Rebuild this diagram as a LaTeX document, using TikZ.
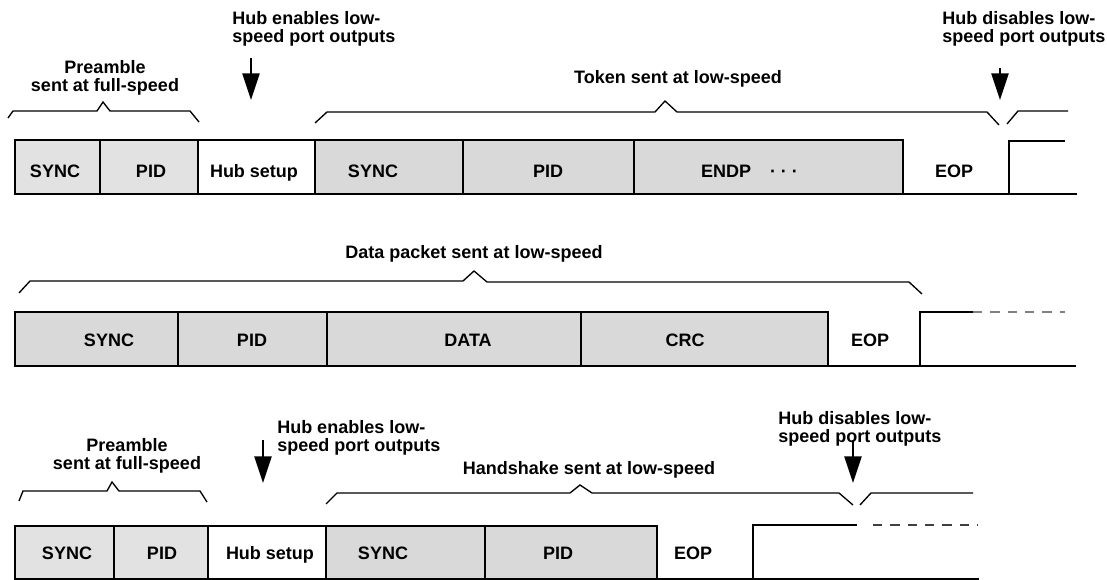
\documentclass[tikz,border=0pt]{standalone}
\usepackage{amsmath,xcolor,tikz}
\usepackage{fontspec}
\setmainfont{Liberation Sans}
\usetikzlibrary{arrows.meta}

\begin{document}
\begin{tikzpicture}[x=0.75pt,y=0.75pt,yscale=-1,xscale=1,
  lbl/.style={inner sep=0.75pt,font=\fontsize{13.5}{13.5}\selectfont\bfseries},
  fsbox/.style={draw,line width=1.3,fill={rgb, 255:red, 226; green, 226; blue, 226 }},
  lsbox/.style={draw,line width=1.3,fill={rgb, 255:red, 217; green, 217; blue, 217 }},
  hubbox/.style={draw,line width=1.3,fill=white},
  wire/.style={line width=1.3},
  idle/.style={line width=1.1,dash pattern=on 7pt off 6pt},
  brace/.style={line width=1},
  hubarrow/.style={line width=1.1,-{Triangle[width=13pt,length=20pt]}}]

\useasboundingbox (0,0) rectangle (1107,580);

\draw [fsbox] (15,140) rectangle (100,194) ;

\draw [fsbox] (100,140) rectangle (198,194) ;

\draw [hubbox] (198,140) rectangle (315,194) ;

\draw [lsbox] (315,140) rectangle (463,194) ;

\draw [lsbox] (463,140) rectangle (634,194) ;

\draw [lsbox] (634,140) rectangle (903,194) ;

\draw [wire] (903,194) -- (1077,194) ;

\draw [wire] (1009,194) -- (1009,141) -- (1065,141) ;

\draw [brace] (8,118) -- (13,111) -- (97,111) -- (103,102) -- (110,111) -- (190,111) -- (199,122) ;

\draw [brace] (315,123) -- (327,112) -- (655,112) -- (665,101) -- (677,112) -- (987,112) -- (999,125) ;

\draw [brace] (1007,124) -- (1018,111) -- (1068,111) ;

\coordinate (en1a) at (251,58) ;
\coordinate (en1b) at (251,100) ;
\draw [hubarrow] (en1a) -- (en1b) ;

\coordinate (dis1a) at (1000,68) ;
\draw [hubarrow] (dis1a) -- (dis1a |- en1b) ;

\draw (55,178) node (sync1) [lbl,anchor=base] {SYNC};

\draw (151,178) node (pid1) [lbl,anchor=base] {PID};

\draw (254,178) node (hub1) [lbl,anchor=base] {Hub setup};

\draw (373,178) node (lsync1) [lbl,anchor=base] {SYNC};

\draw (548,178) node (lpid1) [lbl,anchor=base] {PID};

\draw (726,178) node (endp1) [lbl,anchor=base] {ENDP};

\draw (784,178) node (more1) [lbl,anchor=base] {· · ·};

\draw (954,178) node (eop1) [lbl,anchor=base] {EOP};

\draw (105,59.5) node (pre1) [lbl,anchor=north] [align=center] {Preamble\\sent at full-speed};

\draw (231,10.5) node (en1) [lbl,anchor=north west] [align=left] {Hub enables low-\\speed port outputs};

\draw (678,83.5) node (tok1) [lbl,anchor=base] {Token sent at low-speed};

\draw (941,10.5) node (dis1) [lbl,anchor=north west] [align=left] {Hub disables low-\\speed port outputs};

\draw [lsbox] (15,312) rectangle (178,366) ;

\draw [lsbox] (178,312) rectangle (327,366) ;

\draw [lsbox] (327,312) rectangle (581,366) ;

\draw [lsbox] (581,312) rectangle (828,366) ;

\draw [wire] (828,366) -- (1076,366) ;

\draw [wire] (920,366) -- (920,312) -- (973,312) ;

\draw [idle,color={rgb, 255:red, 128; green, 128; blue, 128 }] (973,312) -- (1065,312) ;

\draw [brace] (19,293) -- (30,281) -- (463,281) -- (474,271) -- (487,282) -- (909,282) -- (922,294) ;

\draw (109,347) node (sync2) [lbl,anchor=base] {SYNC};

\draw (252,347) node (pid2) [lbl,anchor=base] {PID};

\draw (468,347) node (data2) [lbl,anchor=base] {DATA};

\draw (685,347) node (crc2) [lbl,anchor=base] {CRC};

\draw (870,347) node (eop2) [lbl,anchor=base] {EOP};

\draw (474,258.5) node (dat2) [lbl,anchor=base] {Data packet sent at low-speed};

\draw [fsbox] (15,526) rectangle (114,579) ;

\draw [fsbox] (114,526) rectangle (208,579) ;

\draw [hubbox] (208,526) rectangle (326,579) ;

\draw [lsbox] (326,526) rectangle (485,579) ;

\draw [lsbox] (485,526) rectangle (657,579) ;

\draw [wire] (657,579) -- (979,579) ;

\draw [wire] (753,579) -- (753,525) -- (857,525) ;

\draw [idle,color={rgb, 255:red, 64; green, 64; blue, 64 }] (873,525) -- (978,525) ;

\draw [brace] (19,501) -- (23,491) -- (107,491) -- (112,482) -- (119,491) -- (200,491) -- (207,502) ;

\draw [brace] (326,504) -- (337,493) -- (570,493) -- (580,485) -- (592,493) -- (839,493) -- (853,505) ;

\draw [brace] (860,505) -- (871,493) -- (973,493) ;

\coordinate (en3a) at (263,440) ;
\coordinate (en3b) at (263,483) ;
\draw [hubarrow] (en3a) -- (en3b) ;

\coordinate (dis3a) at (853,440) ;
\draw [hubarrow] (dis3a) -- (dis3a |- en3b) ;

\draw (67,560) node (sync3) [lbl,anchor=base] {SYNC};

\draw (162,560) node (pid3) [lbl,anchor=base] {PID};

\draw (270,560) node (hub3) [lbl,anchor=base] {Hub setup};

\draw (383,560) node (lsync3) [lbl,anchor=base] {SYNC};

\draw (558,560) node (lpid3) [lbl,anchor=base] {PID};

\draw (693,560) node (eop3) [lbl,anchor=base] {EOP};

\draw (127,437.5) node (pre3) [lbl,anchor=north] [align=center] {Preamble\\sent at full-speed};

\draw (276,419.5) node (en3) [lbl,anchor=north west] [align=left] {Hub enables low-\\speed port outputs};

\draw (589,474.5) node (hs3) [lbl,anchor=base] {Handshake sent at low-speed};

\draw (777,410.5) node (dis3) [lbl,anchor=north west] [align=left] {Hub disables low-\\speed port outputs};

\end{tikzpicture}
\end{document}
